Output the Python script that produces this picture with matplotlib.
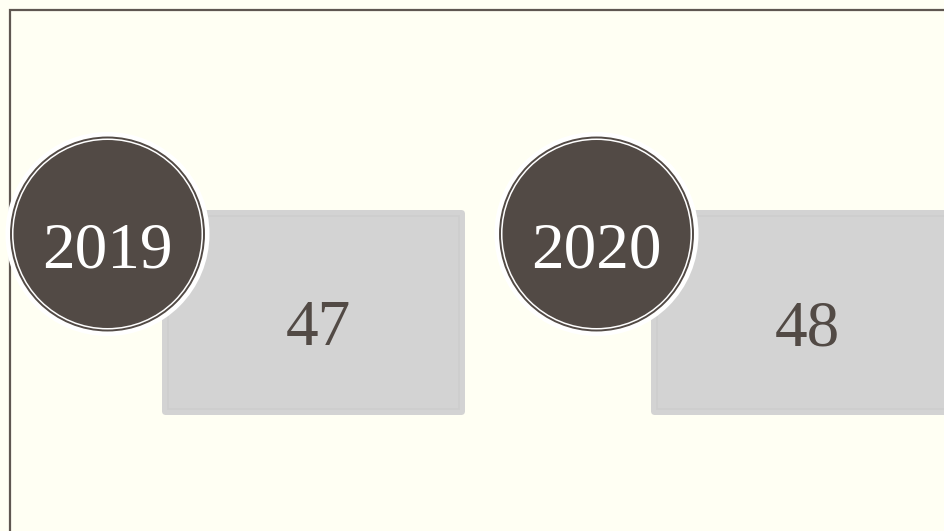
import matplotlib
matplotlib.use("Agg")
import matplotlib.pyplot as plt
from matplotlib.patches import Circle, FancyBboxPatch, Rectangle

# data
years = ["2019", "2020"]
values = [47, 48]

W, H = 945, 531
bg = "#FFFFF3"
dark = "#524A45"
box = "#D3D3D3"

fig = plt.figure(figsize=(W / 100, H / 100), dpi=100, facecolor=bg)
ax = fig.add_axes([0, 0, 1, 1])
ax.set_xlim(0, W)
ax.set_ylim(H, 0)
ax.axis("off")
ax.set_facecolor(bg)

# outer frame (runs off right and bottom)
ax.plot([10, 10, W + 5], [H + 5, 10, 10], color="#5F5750", lw=1.6,
        solid_joinstyle="miter")

step = 489
for i, (yr, v) in enumerate(zip(years, values)):
    cx, cy = 107.5 + i * step, 234
    # grey value box
    bx, by, bw, bh = 162 + i * step, 210, 303, 205
    ax.add_patch(FancyBboxPatch((bx, by), bw, bh,
                                boxstyle="round,pad=0,rounding_size=4",
                                fc=box, ec="none", zorder=2))
    ax.add_patch(Rectangle((bx + 6, by + 6), bw - 12, bh - 12, fc="none",
                           ec="#CDCDCD", lw=1.2, zorder=3))
    ax.text(bx + bw / 2 + 5, 345, str(v), color=dark, ha="center",
            va="baseline", fontsize=47, family="Liberation Serif", zorder=4)
    # year circle
    ax.add_patch(Circle((cx, cy), 102, fc="white", ec="none", zorder=5))
    ax.add_patch(Circle((cx, cy), 96.5, fc="white", ec=dark, lw=1.4,
                        zorder=6))
    ax.add_patch(Circle((cx, cy), 94, fc=dark, ec="none", zorder=7))
    ax.text(cx, 267, yr, color="white", ha="center", va="baseline",
            fontsize=47, family="Liberation Serif", zorder=8)

fig.savefig("out.png", dpi=100, facecolor=bg)
